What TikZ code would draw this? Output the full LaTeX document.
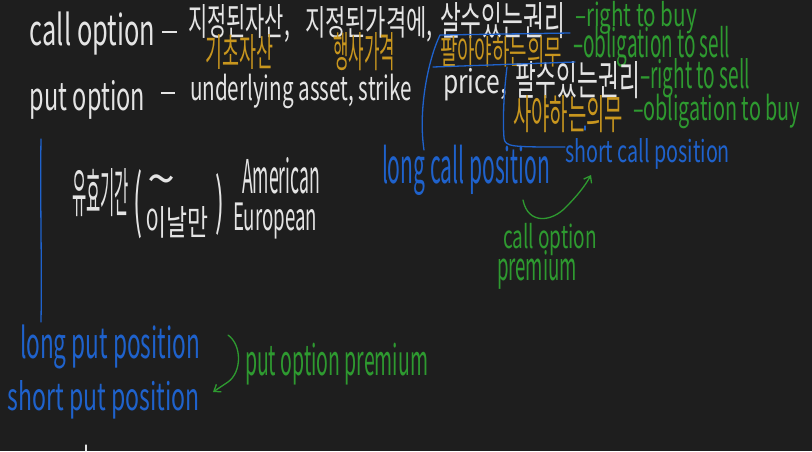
\documentclass[tikz,border=0pt]{standalone}
\usepackage{fontspec}
\setmainfont{Noto Sans CJK KR}
\usepackage{graphicx}
\usetikzlibrary{arrows.meta}
\definecolor{bgc}{HTML}{1E1E1E}
\definecolor{wh}{HTML}{E4E4E4}
\definecolor{ye}{HTML}{C8961E}
\definecolor{gr}{HTML}{2E9A30}
\definecolor{bl}{HTML}{1F62CC}
\newcommand\hw[3]{\resizebox{#1pt}{\dimexpr #2pt*6/5\relax}{#3}}
\newcommand\hk[3]{\resizebox{#1pt}{#2pt}{#3}}
\tikzset{
  txt/.style={anchor=base west, inner sep=0pt, outer sep=0pt},
  wtxt/.style={txt, text=wh},
  ytxt/.style={txt, text=ye},
  gtxt/.style={txt, text=gr},
  btxt/.style={txt, text=bl},
  bline/.style={draw=bl, line width=1.3pt, line cap=round, line join=round},
  gline/.style={draw=gr, line width=1.3pt, line cap=round, line join=round},
  wline/.style={draw=wh, line width=1.3pt, line cap=round},
  glyph/.style={inner sep=0pt, outer sep=0pt},
}
\begin{document}
\begin{tikzpicture}[x=1pt,y=-1pt]
\fill[bgc] (0,0) rectangle (812,451);
\useasboundingbox (0,0) rectangle (812,451);

% line 1
\node[wtxt] (c1) at (30,45) {\hw{125}{28}{call option}};
\node[glyph, text=wh] (d1) at (170,32) {\resizebox{15pt}{1.6pt}{\rule{1pt}{1pt}}};
\node[wtxt] (k1) at (188,35) {\hk{102}{31}{지정된자산,}};
\node[wtxt] (k2) at (305,35) {\hk{128}{29}{지정된가격에,}};
\node[wtxt] (k3) at (440,35) {\hk{125}{33}{살수있는권리}};
\node[gtxt] (g1) at (575,26) {\hw{122}{21}{–right to buy}};
\node[ytxt] (y1) at (205,66) {\hk{68}{32}{기초자산}};
\node[ytxt] (y2) at (333,67) {\hk{62}{35}{행사가격}};
\node[ytxt] (y3) at (440,64) {\hk{122}{28}{팔아야하는의무}};
\node[gtxt] (g2) at (573,57) {\hw{157}{26}{–obligation to sell}};

% line 2
\node[wtxt] (c2) at (30,110) {\hw{115}{25}{put option}};
\node[glyph, text=wh] (d2) at (168,93) {\resizebox{14pt}{1.6pt}{\rule{1pt}{1pt}}};
\node[wtxt] (u1) at (190,100) {\hw{222}{22}{underlying asset, strike}};
\node[wtxt] (u2) at (443,93) {\hw{64}{21}{price,}};
\node[wtxt] (k4) at (515,95) {\hk{125}{34}{팔수있는권리}};
\node[gtxt] (g3) at (640,88) {\hw{110}{25}{–right to sell}};
\node[ytxt] (y4) at (513,129) {\hk{110}{34}{사야하는의무}};
\node[gtxt] (g4) at (633,120) {\hw{167}{22}{–obligation to buy}};

% call positions
\node[btxt] (b1) at (382,183) {\hw{168}{32}{long call position}};
\node[btxt] (b2) at (565,162) {\hw{165}{20}{short call position}};
\node[gtxt] (g5) at (503,248) {\hw{94}{21}{call option}};
\node[gtxt] (g6) at (497,280) {\hw{80}{25}{premium}};

% expiry
\node[wtxt] (w1) at (72,212) {\hk{57}{44}{유효기간}};
\node[glyph, text=wh] (p1) at (138,204) {\resizebox{9pt}{56pt}{(}};
\node[glyph, text=wh] (t1) at (162,186) {\resizebox{28pt}{!}{\textasciitilde}};
\node[wtxt] (w2) at (145,235) {\hk{63}{29}{이날만}};
\node[glyph, text=wh] (p2) at (220,204) {\resizebox{9pt}{50pt}{)}};
\node[wtxt] (am) at (242,193) {\hw{78}{30}{American}};
\node[wtxt] (eu) at (233,230) {\hw{84}{23}{European}};

% put positions
\node[btxt] (b3) at (20,358) {\hw{180}{28}{long put position}};
\node[btxt] (b4) at (8,410) {\hw{192}{25}{short put position}};
\node[gtxt] (g7) at (245,375) {\hw{183}{27}{put option premium}};

% blue strokes
\coordinate (lc0) at (570,33);
\coordinate (lc1) at (440,35);
\coordinate (lc2) at (424,150);
\path[bline] (lc0) -- (lc1) .. controls (428,60) and (418,110) .. (lc2);
\coordinate (ul0) at (433,67);
\coordinate (ul1) at (575,62);
\path[bline] (ul0) -- (ul1);
\coordinate (sc0) at (507,67);
\path[bline] (sc0) .. controls (503,100) and (503,125) .. (504,138) .. controls (505,147) and (512,147) .. (b2.west |- 0,147);
\coordinate (vl0) at (41,139);
\coordinate (vl1) at (41,322);
\path[bline] (vl0) .. controls (40,200) and (42,260) .. (vl1);
\coordinate (bm0) at (585,126);
\coordinate (bm1) at (585,130);
\path[bline] (bm0) -- (bm1);

% green arrows
\coordinate (ca0) at (523,200);
\coordinate (ca1) at (591,175);
\path[gline, -{Straight Barb[length=6pt,width=9pt]}] (ca0) .. controls (528,225) and (552,222) .. (566,207) .. controls (577,196) and (585,186) .. (ca1);
\coordinate (pa0) at (228,335);
\coordinate (pa1) at (213,392);
\path[gline, -{Straight Barb[length=6pt,width=9pt]}] (pa0) .. controls (242,345) and (242,372) .. (228,382) -- (pa1);

% tiny white mark
\coordinate (wm0) at (86,445);
\coordinate (wm1) at (86,451);
\path[wline] (wm0) -- (wm1);
\end{tikzpicture}
\end{document}
